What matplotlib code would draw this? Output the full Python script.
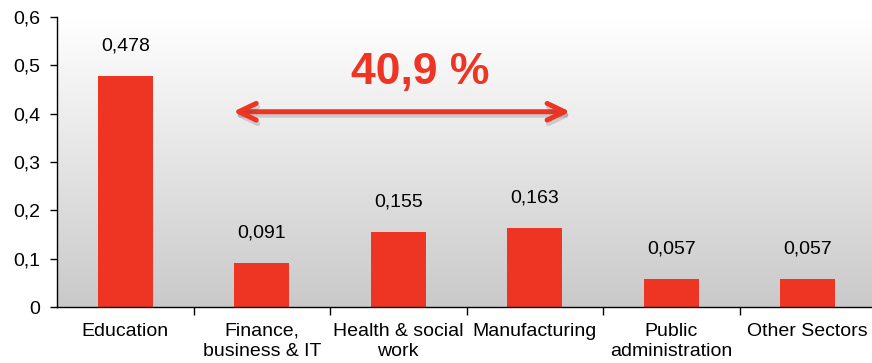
import numpy as np
import matplotlib
matplotlib.use("Agg")
import matplotlib.pyplot as plt
from matplotlib.ticker import FixedLocator
import matplotlib.patheffects as pe

plt.rcParams['font.family'] = ['Liberation Sans', 'DejaVu Sans']

categories = ["Education", "Finance,\nbusiness & IT", "Health & social\nwork",
              "Manufacturing", "Public\nadministration", "Other Sectors"]
values = [0.478, 0.091, 0.155, 0.163, 0.057, 0.057]
value_labels = ["0,478", "0,091", "0,155", "0,163", "0,057", "0,057"]
y_ticks = [0, 0.1, 0.2, 0.3, 0.4, 0.5, 0.6]
y_tick_labels = ["0", "0,1", "0,2", "0,3", "0,4", "0,5", "0,6"]
span_label = "40,9 %"

red = "#ee3524"
fs = 14

fig = plt.figure(figsize=(8.72, 3.63), dpi=100)
ax = fig.add_axes([57 / 872, 1 - 307 / 363, 819 / 872, 290 / 363])

x = np.arange(len(categories))
ax.set_xlim(-0.5, len(categories) - 0.5)
ax.set_ylim(0, 0.6)

# vertical grey gradient behind the plot
grad = np.linspace(1.0, 0.0, 256).reshape(-1, 1)
top = np.array([1.0, 1.0, 1.0])
bottom = np.array([0.79, 0.79, 0.79])
img = top * grad[..., None] + bottom * (1 - grad[..., None])
ax.imshow(img, aspect="auto", extent=[-0.5, len(categories) - 0.5, 0, 0.6],
          origin="upper", zorder=0)

ax.bar(x, values, width=0.40, color=red, zorder=2)

for xi, v, lab in zip(x, values, value_labels):
    ax.text(xi, v + 0.063, lab, ha="center", va="center", fontsize=fs, color="black")

for s in ["top", "right"]:
    ax.spines[s].set_visible(False)
ax.spines["left"].set_linewidth(1.0)
ax.spines["bottom"].set_linewidth(1.0)

ax.yaxis.set_major_locator(FixedLocator(y_ticks))
ax.set_yticklabels(y_tick_labels)
ax.tick_params(axis="y", direction="out", length=5, width=1, labelsize=fs, pad=7)

ax.set_xticks(x)
ax.set_xticklabels(categories, fontsize=fs, linespacing=1.2)
ax.tick_params(axis="x", length=0, pad=11.5)
ax.set_xticks(np.arange(0.5, len(categories) - 0.5, 1.0), minor=True)
ax.tick_params(axis="x", which="minor", direction="out", length=6, width=1)

# double-headed arrow spanning the middle sectors
ax.annotate("", xy=(0.79, 0.404), xytext=(3.26, 0.404),
            arrowprops=dict(arrowstyle="<->,head_length=1.25,head_width=0.6",
                            mutation_scale=10, color=red, lw=3.6,
                            shrinkA=0, shrinkB=0,
                            capstyle="round", joinstyle="round",
                            path_effects=[pe.SimpleLineShadow(offset=(1, -2.5), alpha=0.22,
                                                              shadow_color="#555555"),
                                          pe.Normal()]),
            zorder=3)
ax.text(2.16, 0.485, span_label, ha="center", va="center", fontsize=32,
        fontweight="bold", color=red, zorder=3)

fig.savefig("out.png", dpi=100)
